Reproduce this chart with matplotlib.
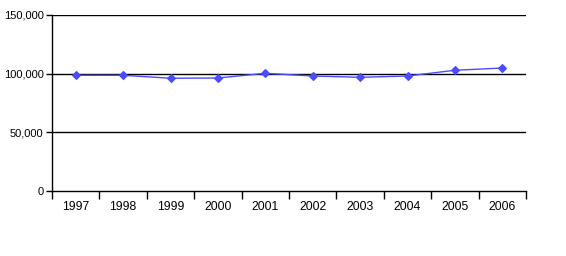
import matplotlib

matplotlib.use('Agg')
import matplotlib.pyplot as plt
import numpy as np

years = ['1997', '1998', '1999', '2000', '2001', '2002', '2003', '2004', '2005', '2006']
values = [98600, 98600, 96100, 96300, 100300, 98000, 96900, 98000, 102900, 104800]
y_ticks = [0, 50000, 100000, 150000]

plt.rcParams['font.family'] = ['Liberation Sans', 'DejaVu Sans']

fig = plt.figure(figsize=(5.66, 2.56), dpi=100)
ax = fig.add_axes([52 / 566, 1 - 191 / 256, 474 / 566, 176 / 256])

x = np.arange(len(years))
# gridlines drawn first, series on top
for v in y_ticks[1:]:
    ax.axhline(v, color='black', lw=1, zorder=1)
ax.plot(x, values, color='#4b4bff', lw=1, marker='D', markersize=4.5,
        markeredgewidth=0.8, zorder=3)

ax.set_xlim(-0.5, len(years) - 0.5)
ax.set_ylim(0, 150000)
ax.set_yticks(y_ticks)
ax.set_yticklabels(['{:,}'.format(v) for v in y_ticks])

# category boundary ticks, labels in the middle
ax.set_xticks(np.arange(len(years) + 1) - 0.5)
ax.set_xticklabels([])
ax.set_xticks(x, minor=True)
ax.set_xticklabels(years, minor=True)
ax.tick_params(axis='x', which='major', length=6, width=1, direction='out')
ax.tick_params(axis='x', which='minor', length=0, pad=7, labelsize=8.8)
ax.tick_params(axis='y', length=4, width=1, pad=2, labelsize=8)

for s in ['top', 'right']:
    ax.spines[s].set_visible(False)
for s in ['left', 'bottom']:
    ax.spines[s].set_linewidth(1)

fig.savefig('out.png', dpi=100)
